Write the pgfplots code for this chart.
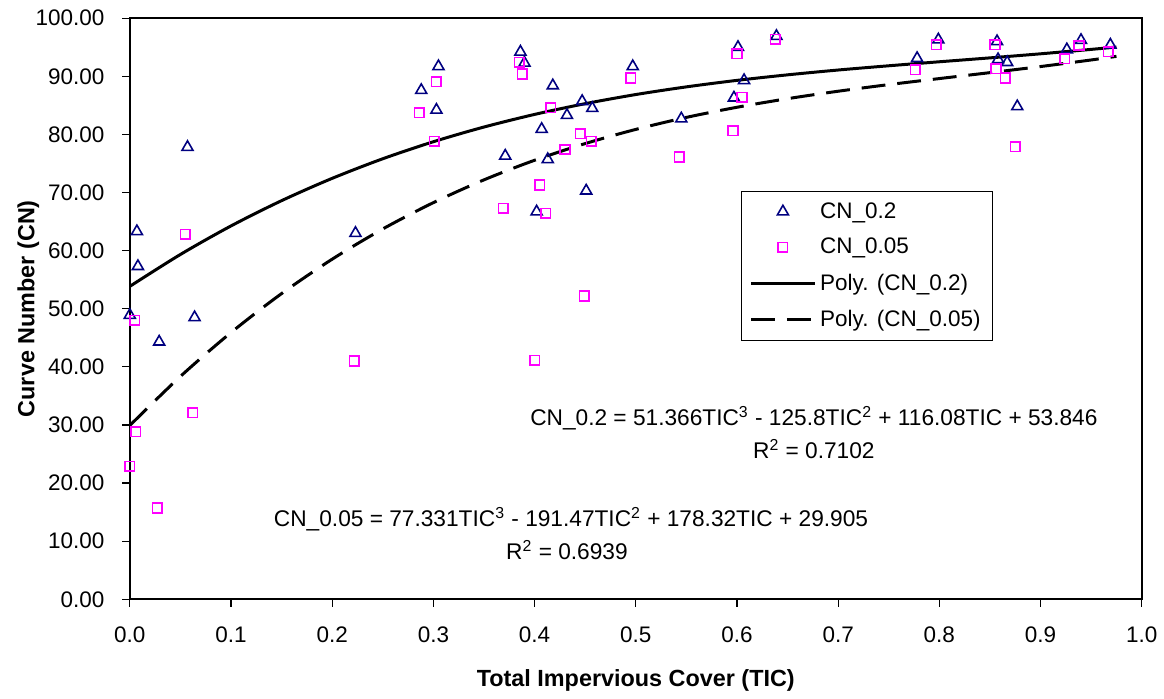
\documentclass[border=0pt]{standalone}
\usepackage{pgfplots}
\pgfplotsset{compat=1.18}
\usepackage{fontspec}
\setmainfont{Liberation Sans}

\definecolor{cnnavy}{HTML}{000080}
\definecolor{cnmag}{HTML}{FF00FF}

% measured points: TIC vs CN at 0.2 and 0.05
\begin{document}
\begin{tikzpicture}
\begin{axis}[
    scale only axis,
    width=508.5pt, height=292pt,
    xmin=0, xmax=1, ymin=0, ymax=100,
    xtick distance=0.1, ytick distance=10,
    tick pos=left, tick align=outside,
    major tick length=3.8pt,
    axis line style={black, line width=0.9pt},
    tick style={black, line width=0.6pt},
    font=\fontsize{11.3}{13}\selectfont,
    /pgf/number format/assume math mode=true,
    xticklabel style={yshift=-6.5pt, /pgf/number format/fixed,
        /pgf/number format/fixed zerofill, /pgf/number format/precision=1},
    yticklabel style={xshift=-5.5pt, /pgf/number format/fixed,
        /pgf/number format/fixed zerofill, /pgf/number format/precision=2},
    scaled ticks=false,
    xlabel={\bfseries Total Impervious Cover (TIC)},
    ylabel={\bfseries Curve Number (CN)},
    xlabel style={at={(axis description cs:0.5,-0.14)}, anchor=center,
        font=\fontsize{11.75}{13}\selectfont},
    ylabel style={at={(axis description cs:-0.1003,0.5)}, anchor=center,
        font=\fontsize{11.75}{13}\selectfont},
    clip=false,
    legend style={at={(0.604,0.703)}, anchor=north west, draw=black, line width=0.6pt,
        fill=white, row sep=4.6pt, inner xsep=4pt, inner ysep=3.5pt,
        font=\fontsize{11.3}{13}\selectfont, cells={anchor=west},
        /tikz/every even column/.append style={column sep=2pt}},
    legend image code/.code={%
        \draw[mark repeat=2, mark phase=2, #1] plot coordinates {(0pt,0pt) (16pt,0pt) (32pt,0pt)};},
]
\path (rel axis cs:-0.1283,-0.1522) rectangle (rel axis cs:1.0162,1.0313);

\addplot[only marks, mark=triangle, mark size=3.2pt, draw=cnnavy,
    mark options={line width=0.8pt, draw=cnnavy}] coordinates {
(0.000,48.9) (0.007,63.3) (0.008,57.3) (0.029,44.3) (0.057,77.8) (0.064,48.5)
(0.223,63.0) (0.288,87.6) (0.303,84.2) (0.305,91.7) (0.371,76.3) (0.386,94.2)
(0.390,92.3) (0.402,66.7) (0.407,80.9) (0.413,75.7) (0.418,88.4) (0.432,83.3)
(0.447,85.7) (0.451,70.3) (0.457,84.5) (0.497,91.7) (0.545,82.7) (0.597,86.3)
(0.601,95.0) (0.607,89.3) (0.639,96.9) (0.778,93.1) (0.799,96.3) (0.857,96.0)
(0.858,92.9) (0.867,92.4) (0.877,84.8) (0.926,94.6) (0.940,96.2) (0.969,95.4)
};
\addlegendentry{CN\_0.2}

\addplot[only marks, mark=square, mark size=2.4pt, draw=cnmag,
    mark options={line width=0.8pt, draw=cnmag}] coordinates {
(0.000,22.9) (0.005,48.0) (0.006,28.8) (0.027,15.7) (0.055,62.8) (0.062,32.1)
(0.222,41.0) (0.286,83.7) (0.301,78.8) (0.303,89.1) (0.369,67.3) (0.385,92.4)
(0.388,90.4) (0.400,41.1) (0.405,71.3) (0.411,66.4) (0.416,84.6) (0.430,77.4)
(0.445,80.1) (0.449,52.2) (0.456,78.8) (0.495,89.7) (0.543,76.1) (0.596,80.6)
(0.600,93.9) (0.605,86.4) (0.638,96.4) (0.776,91.1) (0.797,95.4) (0.855,95.4)
(0.856,91.3) (0.865,89.7) (0.875,77.9) (0.924,93.0) (0.938,95.3) (0.967,94.2)
};
\addlegendentry{CN\_0.05}

% trendlines
\addplot[black, line width=1.5pt, smooth] coordinates {
(0,53.85) (0.05,59.34) (0.1,64.25) (0.15,68.60) (0.2,72.44) (0.25,75.81)
(0.3,78.74) (0.35,81.27) (0.4,83.44) (0.45,85.29) (0.5,86.86) (0.55,88.18)
(0.6,89.30) (0.65,90.25) (0.7,91.08) (0.75,91.81) (0.8,92.50) (0.85,93.17)
(0.9,93.87) (0.95,94.63) (0.975,95.04)
};
\addlegendentry{Poly. (CN\_0.2)}

\addplot[black, line width=1.5pt, smooth, dash pattern=on 12pt off 6pt] coordinates {
(0,29.91) (0.05,38.35) (0.1,45.90) (0.15,52.61) (0.2,58.53) (0.25,63.73)
(0.3,68.26) (0.35,72.18) (0.4,75.55) (0.45,78.42) (0.5,80.86) (0.55,82.93)
(0.6,84.67) (0.65,86.15) (0.7,87.43) (0.75,88.57) (0.8,89.61) (0.85,90.63)
(0.9,91.68) (0.95,92.81) (0.975,93.43)
};
\addlegendentry{Poly. (CN\_0.05)}

\node[font=\fontsize{11.4}{13}\selectfont] at (axis cs:0.676,31.2)
    {CN\_0.2 = 51.366TIC\textsuperscript{3} - 125.8TIC\textsuperscript{2} + 116.08TIC + 53.846};
\node[font=\fontsize{11.4}{13}\selectfont] at (axis cs:0.676,25.9)
    {R\textsuperscript{2} = 0.7102};
\node[font=\fontsize{11.4}{13}\selectfont] at (axis cs:0.436,13.75)
    {CN\_0.05 = 77.331TIC\textsuperscript{3} - 191.47TIC\textsuperscript{2} + 178.32TIC + 29.905};
\node[font=\fontsize{11.4}{13}\selectfont] at (axis cs:0.432,8.44)
    {R\textsuperscript{2} = 0.6939};
\end{axis}
\end{tikzpicture}
\end{document}
